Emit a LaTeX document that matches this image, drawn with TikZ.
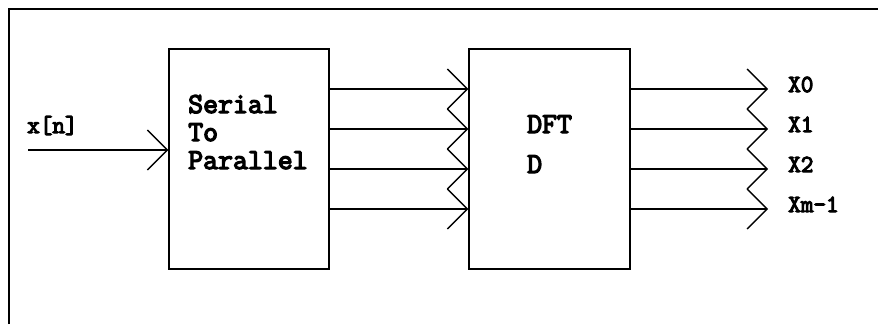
\documentclass[tikz,border=0pt]{standalone}
\usepackage{fontspec}
\setmonofont[AutoFakeBold=4.5]{Latin Modern Mono}
\usetikzlibrary{arrows.meta}
\begin{document}
\begin{tikzpicture}[x=1pt,y=-1pt,
  wire/.style={line width=1.4pt, -{Straight Barb[length=20pt,width=40pt,line width=1.4pt]}},
  blockbox/.style={draw, line width=1.4pt, inner sep=0pt},
  bigtxt/.style={font=\ttfamily\bfseries\fontsize{29}{31}\selectfont, inner sep=0pt, anchor=base west},
  smalltxt/.style={font=\ttfamily\bfseries\fontsize{24.5}{26}\selectfont, inner sep=0pt, anchor=base west}]
\useasboundingbox (0,0) rectangle (878,324);
\draw[line width=2pt] (9,324) -- (9,9) -- (878,9);
% blocks
\node[blockbox, minimum width=160pt, minimum height=220pt] (sp) at (249,159) {};
\node[blockbox, minimum width=161pt, minimum height=220pt] (dft) at (549.5,159) {};
% texts
\node[bigtxt] (t1) at (188,113) {Serial};
\node[bigtxt] (t2) at (188,141) {To};
\node[bigtxt] (t3) at (188,169) {Parallel};
\node[bigtxt] (t4) at (527,133) {DFT};
\node[bigtxt] (t5) at (527,173) {D};
\node[smalltxt] (xn) at (27,133) {x[n]};
\node[smalltxt] (o0) at (788,92) {X0};
\node[smalltxt] (o1) at (788,132) {X1};
\node[smalltxt] (o2) at (788,172) {X2};
\node[smalltxt] (o3) at (788,212) {Xm-1};
% input
\coordinate (in) at (28,150);
\draw[wire] (in) -- (in -| sp.west);
% parallel lines
\foreach \i/\y in {0/89,1/129,2/169,3/209}{
  \coordinate (a\i) at (329,\y);
  \coordinate (e\i) at (768,\y);
  \draw[wire] (a\i -| sp.east) -- (a\i -| dft.west);
  \draw[wire] (e\i -| dft.east) -- (e\i);
}
\end{tikzpicture}
\end{document}
